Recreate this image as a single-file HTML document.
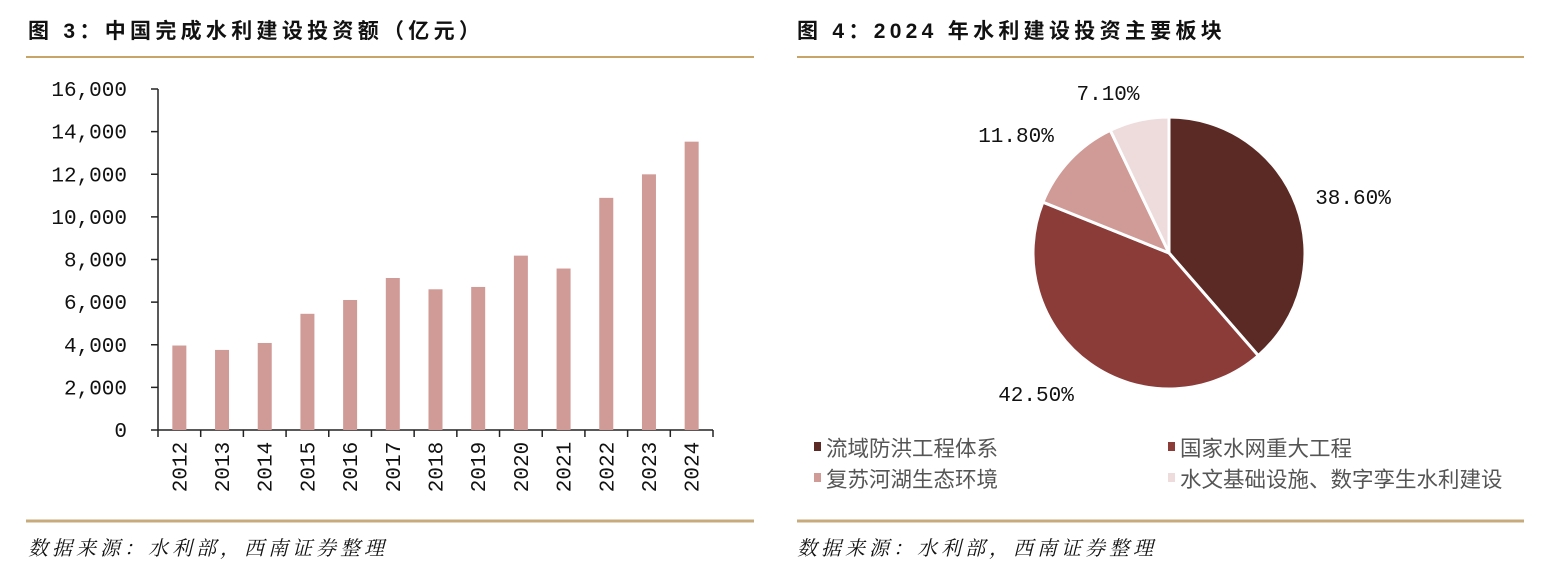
<!DOCTYPE html>
<html><head><meta charset="utf-8"><style>
body{margin:0;background:#fff;width:1556px;height:576px;overflow:hidden;font-family:"Liberation Sans","Noto Sans CJK SC",sans-serif}
svg{position:absolute;left:0;top:0}
.t{font-family:"Liberation Sans","Noto Sans CJK SC",sans-serif;font-weight:bold;font-size:21px;fill:#111;letter-spacing:4.3px}
.m{font-family:"Liberation Mono","DejaVu Sans Mono",monospace;font-size:21px;fill:#111}
.lg{font-family:"Liberation Sans","Noto Sans CJK SC",sans-serif;font-size:21.5px;fill:#555}
.src{font-family:"Liberation Serif","Noto Serif CJK SC",serif;font-style:italic;font-size:20px;fill:#111;letter-spacing:4px}
</style></head><body>
<svg id="s" width="1556" height="576">
<text class="t" x="28" y="38">图 3：中国完成水利建设投资额（亿元）</text>
<line x1="26" y1="57" x2="754" y2="57" stroke="#c9a468" stroke-width="2"/>
<text class="t" x="797" y="38">图 4：2024 年水利建设投资主要板块</text>
<line x1="797" y1="57" x2="1524" y2="57" stroke="#c9a468" stroke-width="2"/>
<line x1="26" y1="521" x2="754" y2="521" stroke="#c8ab7c" stroke-width="3"/>
<line x1="797" y1="521" x2="1524" y2="521" stroke="#c8ab7c" stroke-width="3"/>
<text class="src" x="28" y="555">数据来源：水利部，西南证券整理</text>
<text class="src" x="797" y="555">数据来源：水利部，西南证券整理</text>
<g id="bars"></g>
<g id="pie"></g>
</svg>
<script>
const years=["2012","2013","2014","2015","2016","2017","2018","2019","2020","2021","2022","2023","2024"];
const invest=[3964,3757,4083,5452,6100,7132,6602,6712,8181,7576,10893,11996,13529];
const yTicks=[0,2000,4000,6000,8000,10000,12000,14000,16000];
const shares=[38.6,42.5,11.8,7.1];
const shareLabels=["38.60%","42.50%","11.80%","7.10%"];
const sectors=["流域防洪工程体系","国家水网重大工程","复苏河湖生态环境","水文基础设施、数字孪生水利建设"];
const NS="http://www.w3.org/2000/svg";
function mk(t,a,p){const e=document.createElementNS(NS,t);for(const k in a)e.setAttribute(k,a[k]);p.appendChild(e);return e;}
const g=document.getElementById('bars');
const x0=158,x1=713,y0=430,y1=89,ymax=16000;
const Y=v=>y0-(v/ymax)*(y0-y1);
const bw=(x1-x0)/years.length;
const X=i=>x0+bw*(i+0.5);
let ax=mk('line',{x1:x0,y1:y1,x2:x0,y2:y0,stroke:'#222','stroke-width':1.5},g);

let xa=mk('line',{x1:x0,y1:y0,x2:x1,y2:y0,stroke:'#222','stroke-width':1.5},g);

yTicks.forEach(v=>{
  mk('line',{x1:x0-7,y1:Y(v),x2:x0,y2:Y(v),stroke:'#222','stroke-width':1.5},g);
  const t=mk('text',{x:127,y:Y(v)+7,'text-anchor':'end',class:'m'},g);
  t.textContent=v.toLocaleString('en-US');
  
  
});
for(let i=0;i<=years.length;i++)mk('line',{x1:x0+bw*i,y1:y0,x2:x0+bw*i,y2:y0+7,stroke:'#222','stroke-width':1.5},g);
years.forEach((yr,i)=>{
  const r=mk('rect',{x:X(i)-7,y:Y(invest[i]),width:14,height:y0-Y(invest[i]),fill:'#d09a96'},g);
  
  
  const t=mk('text',{class:'m',transform:`translate(${X(i)+7},${467}) rotate(-90)`,'text-anchor':'middle'},g);
  t.textContent=yr;
  
  
});
const p=document.getElementById('pie');
const cx=1169,cy=253,R=136;
const cols=['#5b2a25','#8b3c39','#d09a96','#eddcdb'];
const lpos=[[1353,204],[1036,401],[1016,142],[1108,100]];
let a=0;const tot=shares.reduce((s,v)=>s+v,0);
shares.forEach((v,i)=>{
  const a2=a+v/tot*2*Math.PI;
  const P=t=>[cx+R*Math.sin(t),cy-R*Math.cos(t)];
  const [sx,sy]=P(a),[ex,ey]=P(a2);
  const s=mk('path',{d:`M${cx},${cy}L${sx},${sy}A${R},${R} 0 ${a2-a>Math.PI?1:0} 1 ${ex},${ey}Z`,fill:cols[i],stroke:'#fff','stroke-width':3},p);
  
  
  const t=mk('text',{x:lpos[i][0],y:lpos[i][1],'text-anchor':'middle',class:'m'},p);
  t.textContent=shareLabels[i];
  
  
  a=a2;
});
const lp=[[814,448],[1168,448],[814,479],[1168,479]];
sectors.forEach((n,i)=>{
  const r=mk('rect',{x:lp[i][0],y:lp[i][1]-6,width:7,height:9,fill:cols[i]},p);
  
  
  const t=mk('text',{x:lp[i][0]+12,y:lp[i][1]+8,class:'lg'},p);
  t.textContent=n;
  
  
});
</script>
</body></html>
